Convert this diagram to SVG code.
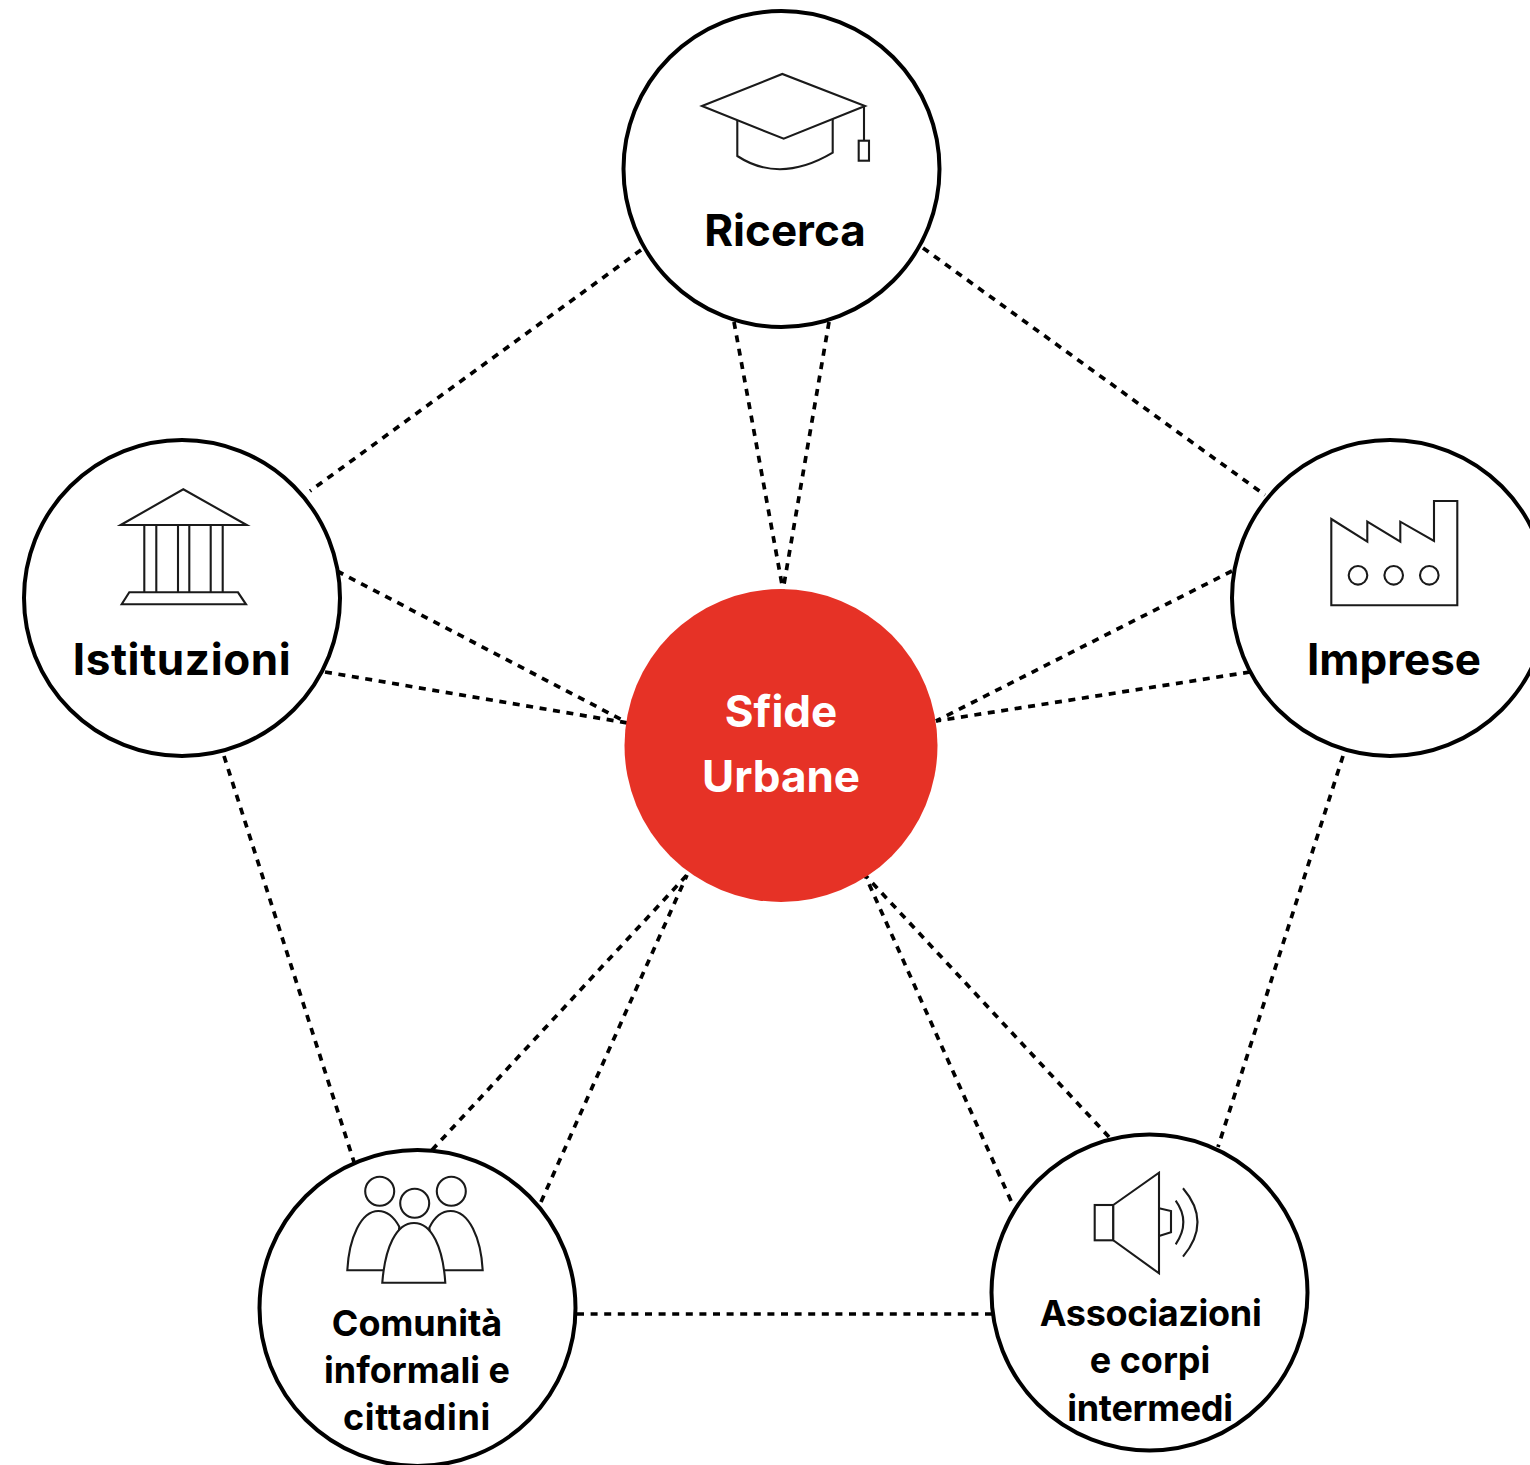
<svg xmlns="http://www.w3.org/2000/svg" width="1530" height="1465" viewBox="0 0 1530 1465">
<style>
.n{fill:#fff;stroke:#000;stroke-width:4}
.i{fill:#fff;stroke:#1a1a1a;stroke-width:2.100;stroke-linejoin:miter}
.o{fill:none;stroke:#1a1a1a;stroke-width:2.100}
.c line{stroke:#000;stroke-width:3.700;stroke-dasharray:7 6.600}
text{font-family:"Inter","Liberation Sans",sans-serif;font-weight:700;fill:#000;text-anchor:middle}
.l{font-size:44px}
.s{font-size:36px}
</style>
<rect width="1530" height="1465" fill="#fff"/>
<g id="connectors" class="c">
<line x1="641" y1="250" x2="310" y2="491"/>
<line x1="923" y1="248" x2="1265" y2="495"/>
<line x1="734" y1="322" x2="783" y2="590"/>
<line x1="829" y1="322" x2="783" y2="590"/>
<line x1="337" y1="571" x2="628" y2="723"/>
<line x1="325" y1="672" x2="628" y2="723"/>
<line x1="1232" y1="571" x2="936" y2="721"/>
<line x1="1250" y1="672" x2="936" y2="721"/>
<line x1="224" y1="756" x2="354" y2="1162"/>
<line x1="1343" y1="756" x2="1218" y2="1147"/>
<line x1="432" y1="1150" x2="687" y2="875"/>
<line x1="541" y1="1202" x2="687" y2="875"/>
<line x1="1109" y1="1137" x2="865" y2="875"/>
<line x1="1011" y1="1201" x2="865" y2="875"/>
<line x1="577" y1="1314" x2="992" y2="1314"/>
</g>
<g id="sfide">
<circle cx="781" cy="745.500" r="156.500" fill="#e63226"/>
<text class="l" x="781" y="727" style="fill:#fff">Sfide</text>
<text class="l" x="781" y="792" style="fill:#fff">Urbane</text>
</g>
<g id="ricerca">
<circle class="n" cx="781.500" cy="169" r="158"/>
<path class="i" d="M737.300 120V156Q780 184 832.700 152.700V119"/>
<path class="i" d="M702 106L782.300 74L865 106L783.700 138.700Z"/>
<path class="o" d="M864 106V140.700"/>
<rect class="i" x="858.700" y="140.700" width="10.300" height="20"/>
<text class="l" x="785" y="246">Ricerca</text>
</g>
<g id="istituzioni">
<circle class="n" cx="182" cy="598" r="158"/>
<path class="i" d="M120.700 525L183.300 489.300L246.700 525Z"/>
<path class="o" d="M144.300 525V592.300M156.300 525V592.300M178 525V592.300M189.300 525V592.300M210.700 525V592.300M222.700 525V592.300"/>
<path class="i" d="M129.300 592.300H238L246 604.300H121.700Z"/>
<text class="l" x="182" y="675" style="letter-spacing:.6px">Istituzioni</text>
</g>
<g id="imprese">
<circle class="n" cx="1390" cy="598" r="158"/>
<path class="i" d="M1331.300 519L1367.300 541.700V521.700L1400.300 541.700V521.700L1434 541V501H1457.300V605.300H1331.300Z"/>
<circle class="i" cx="1358" cy="575.300" r="9.300"/>
<circle class="i" cx="1393.700" cy="575.300" r="9.300"/>
<circle class="i" cx="1429.300" cy="575.300" r="9.300"/>
<text class="l" x="1394" y="675">Imprese</text>
</g>
<g id="comunita">
<circle class="n" cx="417.500" cy="1308" r="158"/>
<circle class="i" cx="379.700" cy="1191.300" r="14.500"/>
<circle class="i" cx="451.300" cy="1191.300" r="14.500"/>
<circle class="i" cx="414.700" cy="1203.300" r="14.500"/>
<path class="i" d="M347.300 1270.300C349 1238 361 1211 378.300 1211C387 1211 394 1217 399.300 1226.700L395 1270.300Z"/>
<path class="i" d="M482.700 1270.300C481 1238 469 1211 450.700 1211C441 1211 434 1218 429.300 1227.700L435 1270.300Z"/>
<path class="i" d="M382.300 1282.700C385 1248 396 1223 414 1223C432 1223 443 1248 445.300 1282.700Z"/>
<text class="s" x="417" y="1336">Comunità</text>
<text class="s" x="417" y="1383">informali e</text>
<text class="s" x="417" y="1430" style="letter-spacing:.7px">cittadini</text>
</g>
<g id="associazioni">
<circle class="n" cx="1149.500" cy="1292.500" r="158"/>
<rect class="i" x="1094.700" y="1205" width="18.600" height="35.300"/>
<path class="i" d="M1113.300 1205L1159 1172.700V1273.300L1113.300 1240.300Z"/>
<path class="o" d="M1159 1208.300L1171 1211V1232.300L1159 1236"/>
<path class="o" d="M1175.700 1200.700Q1191 1222 1175.700 1244.300M1183 1188.300Q1212 1222 1183 1256.700"/>
<text class="s" x="1150.500" y="1326" style="letter-spacing:-.3px">Associazioni</text>
<text class="s" x="1150" y="1373">e corpi</text>
<text class="s" x="1150" y="1421" style="letter-spacing:-.3px">intermedi</text>
</g>
</svg>
